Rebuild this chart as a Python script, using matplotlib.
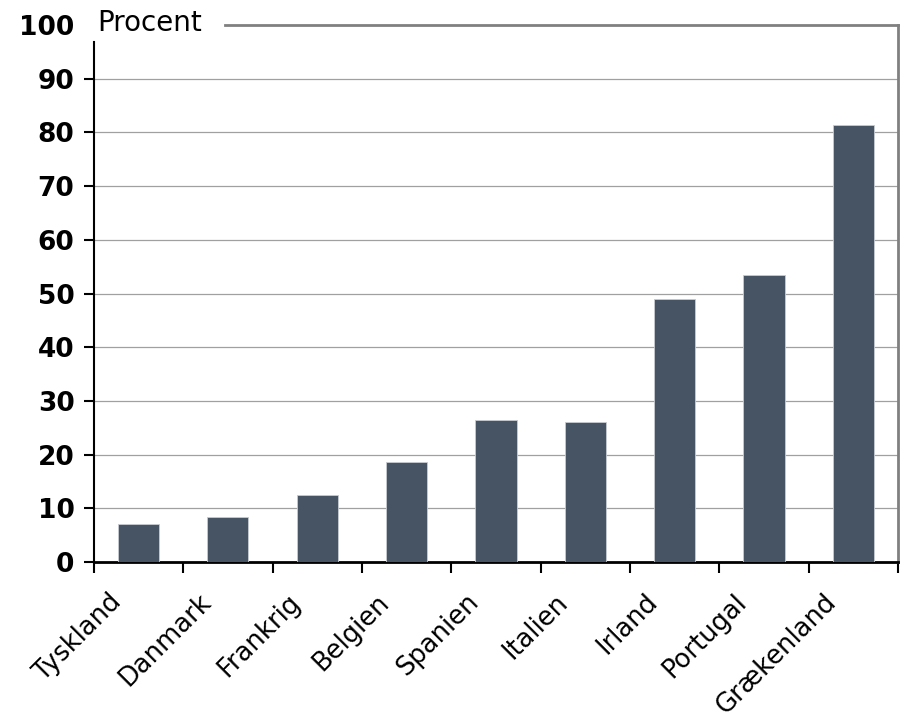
import matplotlib.pyplot as plt
import matplotlib.transforms as mtransforms
import numpy as np

plt.rcParams["font.family"] = "DejaVu Sans"

lande = ["Tyskland", "Danmark", "Frankrig", "Belgien", "Spanien",
         "Italien", "Irland", "Portugal", "Grækenland"]
procent = [7.0, 8.3, 12.4, 18.7, 26.5, 26.0, 48.9, 53.4, 81.4]
y_ticks = [0, 10, 20, 30, 40, 50, 60, 70, 80, 90, 100]

fig = plt.figure(figsize=(9.03, 7.15), dpi=100)
ax = fig.add_axes([0.104, 0.214, 0.8905, 0.751])

x = np.arange(len(lande))
ax.bar(x, procent, width=0.46, color="#465464", edgecolor="#c8ccd2",
       linewidth=0.6, zorder=3)

ax.set_xlim(-0.5, len(lande) - 0.5)
ax.set_ylim(0, 100)

# gridlines
for v in y_ticks[1:-1]:
    ax.axhline(v, color="#a0a0a0", linewidth=0.9, zorder=1)

ax.set_yticks(y_ticks)
ax.set_yticklabels([str(v) for v in y_ticks], fontsize=19, fontweight="bold")
ax.tick_params(axis="y", length=7, width=1.5, direction="out", pad=7)
ax.yaxis.get_major_ticks()[-1].tick1line.set_visible(False)

ax.set_xticks(x)
ax.set_xticklabels(lande, rotation=45, ha="right", rotation_mode="anchor",
                   fontsize=18.5)
ax.set_xticks(np.arange(-0.5, len(lande)), minor=True)
ax.tick_params(axis="x", which="major", length=0, pad=0)
ax.tick_params(axis="x", which="minor", length=8, width=1.5, direction="out")

# shift the rotated labels down and to the left of the bar centres
shift = mtransforms.ScaledTranslation(-30 / 100, -27 / 100, fig.dpi_scale_trans)
for lbl in ax.get_xticklabels():
    lbl.set_transform(lbl.get_transform() + shift)

ax.spines["left"].set_linewidth(1.5)
ax.spines["left"].set_bounds(0, 96.8)
ax.spines["bottom"].set_linewidth(2)
for s in ["top", "right"]:
    ax.spines[s].set_color("#808080")
    ax.spines[s].set_linewidth(2)
ax.spines["top"].set_bounds(0.97, len(lande) - 0.5)

ax.text(0.004, 98.9, "Procent", fontsize=20, va="baseline", ha="left",
        transform=ax.get_yaxis_transform(), zorder=5)

fig.savefig("out.png", dpi=100)
